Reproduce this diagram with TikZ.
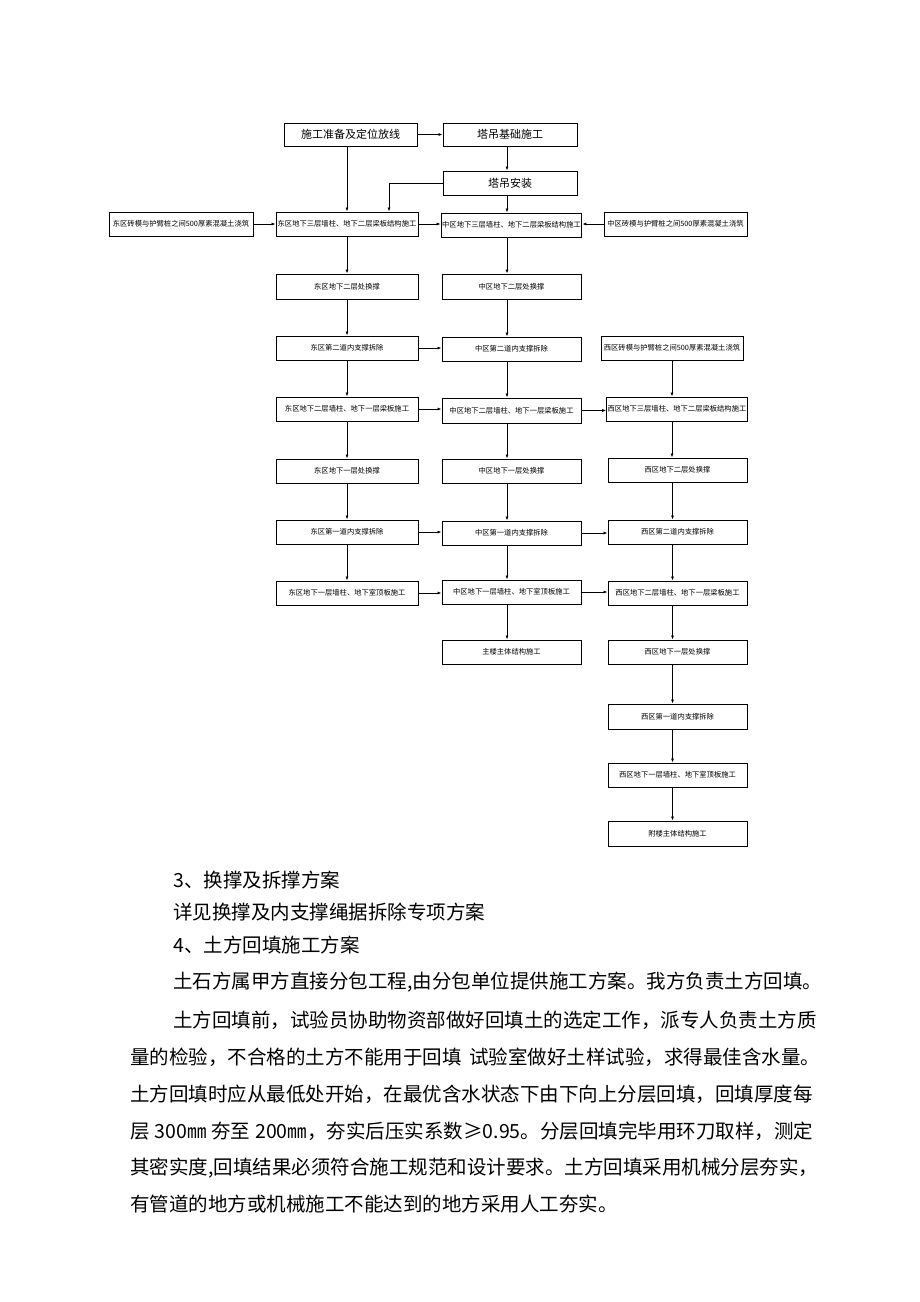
\documentclass[tikz,border=0pt]{standalone}
\usepackage{fontspec}
\setmainfont{Noto Sans CJK SC}
\usetikzlibrary{arrows.meta}
\XeTeXlinebreaklocale "zh"
\XeTeXlinebreakskip=0pt plus 4pt
\begin{document}
\begin{tikzpicture}[x=1pt,y=-1pt,
  box/.style={draw, line width=0.9pt, minimum height=24pt, inner xsep=1pt, inner ysep=1pt, font=\fontsize{7.3}{8}\selectfont},
  bigbox/.style={box, minimum height=23pt, font=\fontsize{11}{12}\selectfont},
  arr/.style={-{Latex[length=4pt,width=3pt]}, line width=0.8pt},
  body/.style={anchor=west, inner sep=0pt, font=\fontsize{19.5}{20}\selectfont}]
\useasboundingbox[fill=white] (0,0) rectangle (920,1302);
% top
\node[bigbox, minimum width=133pt] (prep) at (350.5,134.5) {施工准备及定位放线};
\node[bigbox, minimum width=134pt] (tjf) at (510,134.5) {塔吊基础施工};
\node[bigbox, minimum width=134pt, minimum height=24pt] (tji) at (510,183) {塔吊安装};
% row 1
\node[box, minimum width=144pt] (eb) at (181,224) {东区砖模与护臂桩之间500厚素混凝土浇筑};
\node[box, minimum width=142pt] (e1) at (347,224) {东区地下三层墙柱、地下二层梁板结构施工};
\node[box, minimum width=139pt] (m1) at (511.5,225) {中区地下三层墙柱、地下二层梁板结构施工};
\node[box, minimum width=143pt] (mb) at (675.5,224) {中区砖模与护臂桩之间500厚素混凝土浇筑};
% row 2
\node[box, minimum width=142pt, minimum height=25pt] (e2) at (347,286.5) {东区地下二层处换撑};
\node[box, minimum width=139pt, minimum height=25pt] (m2) at (511.5,286.5) {中区地下二层处换撑};
% row 3
\node[box, minimum width=142pt] (e3) at (347,348) {东区第二道内支撑拆除};
\node[box, minimum width=139pt] (m3) at (511.5,349) {中区第二道内支撑拆除};
\node[box, minimum width=142pt] (wb) at (672,348) {西区砖模与护臂桩之间500厚素混凝土浇筑};
% row 4
\node[box, minimum width=142pt] (e4) at (347,409) {东区地下二层墙柱、地下一层梁板施工};
\node[box, minimum width=139pt, minimum height=25pt] (m4) at (511.5,410.5) {中区地下二层墙柱、地下一层梁板施工};
\node[box, minimum width=138pt] (w1) at (677,409) {西区地下三层墙柱、地下二层梁板结构施工};
% row 5
\node[box, minimum width=142pt] (e5) at (347,471) {东区地下一层处换撑};
\node[box, minimum width=139pt] (m5) at (511.5,471) {中区地下一层处换撑};
\node[box, minimum width=139pt] (w2) at (677.5,470) {西区地下二层处换撑};
% row 6
\node[box, minimum width=142pt] (e6) at (347,532) {东区第一道内支撑拆除};
\node[box, minimum width=139pt] (m6) at (511.5,533) {中区第一道内支撑拆除};
\node[box, minimum width=139pt] (w3) at (677.5,532) {西区第二道内支撑拆除};
% row 7
\node[box, minimum width=142pt] (e7) at (347,593) {东区地下一层墙柱、地下室顶板施工};
\node[box, minimum width=139pt] (m7) at (511.5,592) {中区地下一层墙柱、地下室顶板施工};
\node[box, minimum width=139pt] (w4) at (677.5,593) {西区地下二层墙柱、地下一层梁板施工};
% lower
\node[box, minimum width=139pt] (main) at (511.5,652) {主楼主体结构施工};
\node[box, minimum width=139pt] (w5) at (677.5,652) {西区地下一层处换撑};
\node[box, minimum width=139pt, minimum height=25pt] (w6) at (677.5,716.5) {西区第一道内支撑拆除};
\node[box, minimum width=139pt] (w7) at (677.5,775) {西区地下一层墙柱、地下室顶板施工};
\node[box, minimum width=139pt, minimum height=25pt] (w8) at (677.5,833.5) {附楼主体结构施工};
% connectors
\draw[arr] (prep.east) -- (prep.east -| tjf.west);
\draw[arr] (prep.south -| e1.north) -- (e1.north);
\draw[arr] ([xshift=-3pt]tjf.south) -- ([xshift=-3pt]tji.north);
\draw[arr] (tji.west) -| ([xshift=42pt]e1.north);
\draw[arr] ([xshift=-3pt]tji.south) -- ([xshift=-3pt]tji.south |- m1.north);
\draw[arr] (eb.east) -- (eb.east -| e1.west);
\draw[arr] (e1.east) -- (e1.east -| m1.west);
\draw[arr] (mb.west) -- (mb.west -| m1.east);
\foreach \a/\b in {e1/e2,e2/e3,e3/e4,e4/e5,e5/e6,e6/e7}
  \draw[arr] (\a.south) -- (\a.south |- \b.north);
\foreach \a/\b in {m1/m2,m2/m3,m3/m4,m4/m5,m5/m6,m6/m7,m7/main}
  \draw[arr] ([xshift=-4.5pt]\a.south) -- ([xshift=-4.5pt]\a.south |- \b.north);
\draw[arr] (wb.south) -- (wb.south |- w1.north);
\foreach \a/\b in {w1/w2,w2/w3,w3/w4,w4/w5,w5/w6,w6/w7,w7/w8}
  \draw[arr] ([xshift=-5pt]\a.south) -- ([xshift=-5pt]\a.south |- \b.north);
\foreach \a/\b in {e3/m3,e4/m4,m4/w1,e6/m6,m6/w3,e7/m7,m7/w4}
  \draw[arr] (\a.east) -- (\a.east -| \b.west);
% body text
\node[body] (t1) at (173,880) {3、换撑及拆撑方案};
\node[body] (t2) at (173,912) {详见换撑及内支撑绳据拆除专项方案};
\node[body] (t3) at (173,945) {4、土方回填施工方案};
\node[body] (t4) at (173,982) {\hbox to 647pt{土石方属甲方直接分包工程,由分包单位提供施工方案。我方负责土方回填。}};
\node[body] (t5) at (173,1020) {\hbox to 640pt{土方回填前，试验员协助物资部做好回填土的选定工作，派专人负责土方质}};
\node[body] (t6) at (130,1057) {\hbox to 690pt{量的检验，不合格的土方不能用于回填 试验室做好土样试验，求得最佳含水量。}};
\node[body] (t7) at (130,1094) {\hbox to 683pt{土方回填时应从最低处开始，在最优含水状态下由下向上分层回填，回填厚度每}};
\node[body] (t8) at (130,1131) {\hbox to 683pt{层 300㎜ 夯至 200㎜，夯实后压实系数≥0.95。分层回填完毕用环刀取样，测定}};
\node[body] (t9) at (130,1168) {\hbox to 690pt{其密实度,回填结果必须符合施工规范和设计要求。土方回填采用机械分层夯实，}};
\node[body] (t10) at (130,1204) {有管道的地方或机械施工不能达到的地方采用人工夯实。};
\end{tikzpicture}
\end{document}
